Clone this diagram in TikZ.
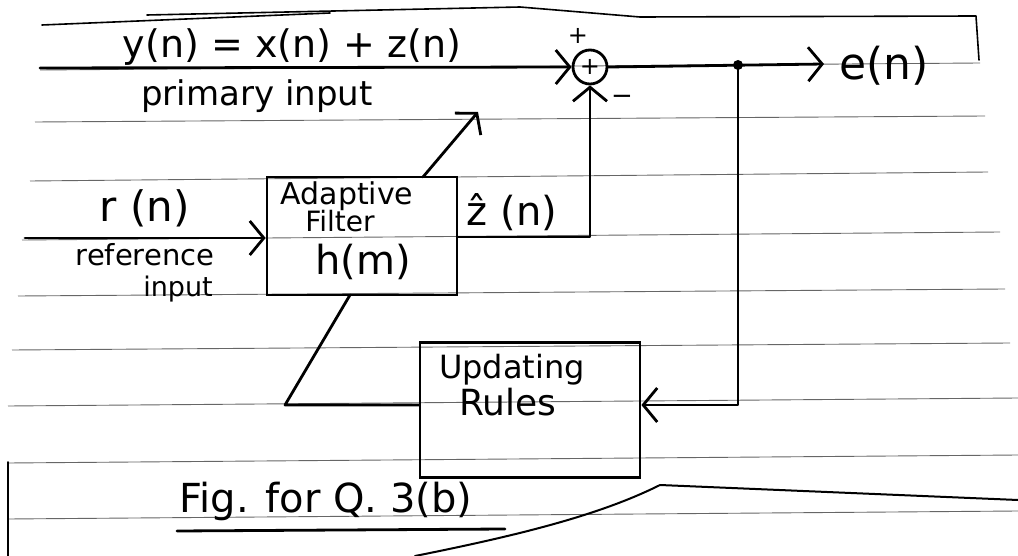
\documentclass[tikz,border=0pt]{standalone}
\usepackage{fontspec}
\setmainfont{DejaVu Sans}
\usetikzlibrary{arrows.meta,calc}
\tikzset{
  ink/.style={line width=2.8pt, black, line cap=round, line join=round},
  rule/.style={line width=0.9pt, black!60},
  vtip/.style={-{Straight Barb[length=14pt,width=34pt,line width=2.8pt]}},
  blk/.style={draw, line width=2.8pt, inner sep=0pt},
  hw/.style={inner sep=0pt, text=black},
  f/.style={font=\fontsize{#1}{#1}\selectfont},
}
\begin{document}
\begin{tikzpicture}[x=1pt,y=-1pt]
\useasboundingbox (0,0) rectangle (1018,556);
% ruled paper lines
\draw[rule] (40,70) -- (980,63);
\draw[rule] (35,122) -- (985,116);
\draw[rule] (30,181) -- (988,172);
\draw[rule] (22,240) -- (1000,232);
\draw[rule] (18,296) -- (1005,289);
\draw[rule] (12,350) -- (1010,343);
\draw[rule] (8,406) -- (1018,398);
\draw[rule] (8,463) -- (1018,455);
\draw[rule] (8,519) -- (1018,511);
% page edges
\draw[ink, line width=1.6pt] (42,25) -- (330,13);
\draw[ink, line width=1.6pt] (147,15) -- (520,7) -- (640,17) -- (976,16) -- (979,60);
\draw[ink, line width=1.6pt] (8,462) -- (8,556);
\draw[ink, line width=2pt] (415,556) .. controls (520,535) and (600,515) .. (660,485) -- (1018,500);

% texts
\node[hw, f=38] (eq) at (292,47) {y(n) = x(n) + z(n)};
\node[hw, f=34] (prim) at (257,96) {primary input};
\node[hw, f=24] (plus) at (578,36) {+};
\node[hw, f=26] (minus) at (622,100) {−};

% summing junction
\node[blk, circle, minimum size=34pt, f=24] (sum) at (590,67) {+};
\node[circle, fill=black, minimum size=10pt, inner sep=0pt] (j) at (738,65) {};
\coordinate (eo) at (824,64);
\node[hw, f=44] (e) at (884,66) {e(n)};

% adaptive filter
\node[blk, minimum width=190pt, minimum height=118pt] (filt) at (362,236) {};
\node[hw, f=30] (t1) at (347,196) {Adaptive};
\node[hw, f=28] (t2) at (340,221) {Filter};
\node[hw, f=40] (t3) at (363,262) {h(m)};

% reference input
\node[hw, f=42] (r) at (145,208) {r (n)};
\node[hw, f=29] (ref) at (145,255) {reference};
\node[hw, f=27] (inp) at (178,289) {input};
\coordinate (ri) at (25,238);

% z hat
\node[hw, f=40] (zh) at (512,212) {ẑ (n)};
\coordinate (zc) at (590,237);

% updating rules
\node[blk, minimum width=220pt, minimum height=135pt] (upd) at (530,410) {};
\node[hw, f=32] (u1) at (512,370) {Updating};
\node[hw, f=36] (u2) at (508,402) {Rules};

% caption
\node[hw, f=40] (fig) at (326,501) {Fig. for Q. 3(b)};
\draw[ink] (177,531) -- (505,529);

% connectors
\coordinate (pi) at (40,68);
\draw[ink, vtip] (pi) -- (sum.west);
\draw[ink, vtip] (sum.east) -- (eo);
\draw[ink, vtip] (ri) -- (filt.west |- ri);
\draw[ink, vtip] (filt.east |- zc) -- (zc) -- (sum.south);
\coordinate (fc) at (738,405);
\draw[ink, vtip] (j.center) -- (fc) -- (upd.east |- fc);
\coordinate (a0) at (285,405);
\coordinate (a1) at (350,295);
\coordinate (a2) at (423,177);
\coordinate (a3) at (478,112);
\draw[ink] (upd.west |- fc) -- (a0) -- (a1);
\draw[ink, vtip] (a2) -- (a3);
\end{tikzpicture}
\end{document}
